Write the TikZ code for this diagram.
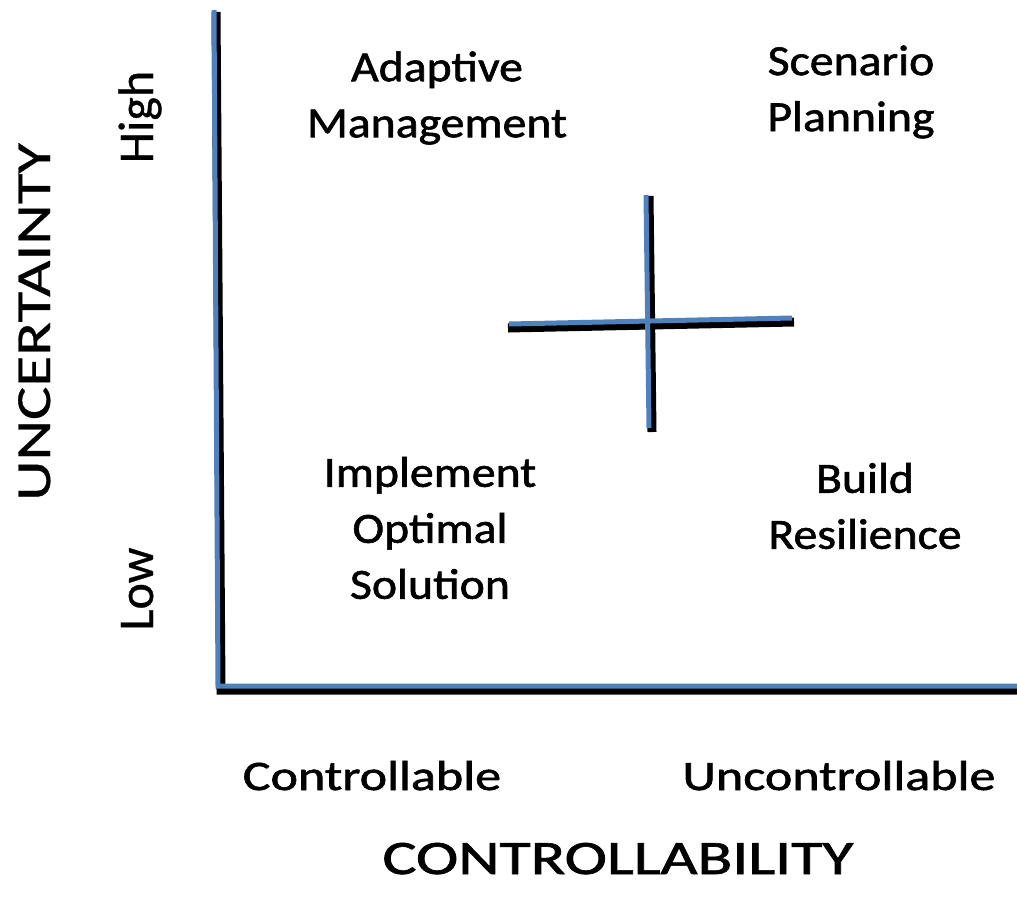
\documentclass[tikz,border=0pt]{standalone}
\usepackage{fontspec}
\setmainfont{Carlito}
\newfontfamily\heavyfont[FakeBold=1.3]{Carlito}
\newfontfamily\midfont[FakeBold=0.6]{Carlito}
\usepackage{graphicx}
\definecolor{axisblue}{RGB}{79,129,189}
\newcommand{\sx}[2]{\scalebox{#1}[1]{#2}}
\begin{document}
\begin{tikzpicture}[x=1pt,y=-1pt,
  shadowline/.style={line width=9pt,black},
  blueline/.style={line width=5pt,axisblue},
  quad/.style={inner sep=0pt,align=center,font=\heavyfont\fontsize{43}{56}\selectfont},
  tick/.style={inner sep=0pt,anchor=base,font=\heavyfont\fontsize{42}{50}\selectfont},
  vtick/.style={inner sep=0pt,anchor=base,rotate=90,font=\midfont\fontsize{50}{60}\selectfont},
  title/.style={inner sep=0pt,anchor=base,font=\heavyfont\fontsize{48}{58}\selectfont}]
\useasboundingbox (0,0) rectangle (1017,897);
% axes
\coordinate (ytop) at (214,10);
\coordinate (origin) at (218,686);
\coordinate (xend) at (1020,686);
\draw[shadowline,line join=miter] ([shift={(2,2)}]ytop) -- ([shift={(3,4)}]origin) -- ([shift={(3,4)}]xend);
\draw[blueline,line join=miter] (ytop) -- (origin) -- (xend);
% cross
\coordinate (cl) at (509,324);
\coordinate (cr) at (792,318);
\coordinate (ct) at (646,195);
\coordinate (cb) at (649,428);
\draw[shadowline] ([shift={(-1,4)}]cl) -- ([shift={(2,4)}]cr);
\draw[shadowline] ([shift={(3,1)}]ct) -- ([shift={(3,4)}]cb);
\draw[blueline] (cl) -- (cr);
\draw[blueline] (ct) -- (cb);
% quadrant labels
\node[quad] (am) at (437,98) {\sx{1.11}{Adaptive}\\\sx{1.11}{Management}};
\node[quad] (sp) at (851,92) {\sx{1.11}{Scenario}\\\sx{1.11}{Planning}};
\node[quad] (ios) at (430,528) {\sx{1.11}{Implement}\\\sx{1.11}{Optimal}\\\sx{1.11}{Solution}};
\node[quad] (br) at (865,506) {\sx{1.11}{Build}\\\sx{1.11}{Resilience}};
% axis ticks
\node[tick] (ctrl) at (372,790) {\sx{1.24}{Controllable}};
\node[tick] (unctrl) at (839,790) {\sx{1.24}{Uncontrollable}};
\node[vtick] (high) at (153,117) {High};
\node[vtick] (low) at (153,589) {Low};
% axis titles
\node[title] (xt) at (618,874) {\sx{1.33}{CONTROLLABILITY}};
\node[inner sep=0pt,anchor=base,rotate=90,font=\midfont\fontsize{49}{58}\selectfont] (yt) at (50,322) {\sx{1.28}{UNCERTAINTY}};
\end{tikzpicture}
\end{document}
